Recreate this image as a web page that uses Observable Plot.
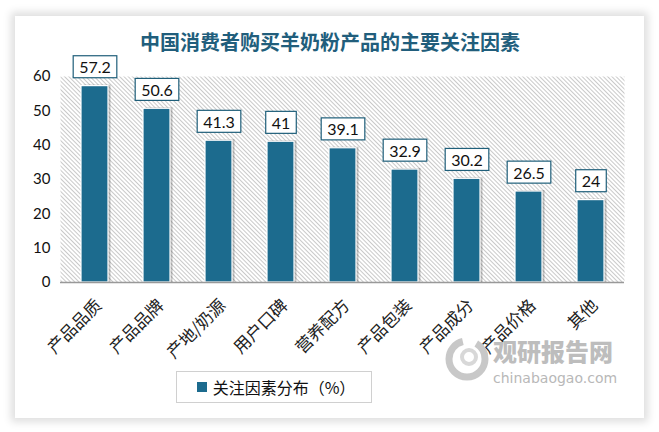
<!DOCTYPE html>
<html><head><meta charset="utf-8">
<script src="https://cdn.jsdelivr.net/npm/d3@7"></script>
<script src="https://cdn.jsdelivr.net/npm/@observablehq/plot@0.6"></script>
<style>
body{margin:0;background:#fff;}
#wrap{position:relative;width:659px;height:432px;overflow:hidden;background:#fff;}
#card{position:absolute;left:15px;top:16px;width:629px;height:402px;background:#fff;box-shadow:0 0 8px 4px rgba(0,0,0,0.13);}
#title{position:absolute;left:0;top:27px;width:660px;text-align:center;font:bold 20px "Noto Sans CJK SC",sans-serif;color:#215e7c;}
#chart{position:absolute;left:0;top:0;}
#legend{position:absolute;left:176px;top:371px;width:196px;height:32px;border:1px solid #d0d0d0;box-sizing:border-box;font:16px "Noto Sans CJK SC",sans-serif;color:#111;display:flex;align-items:center;justify-content:center;padding-left:4px;}
#legend i{display:inline-block;width:10px;height:10px;background:#1c6b8e;margin-right:6px;}
#wm1{position:absolute;left:493px;top:333px;font:900 24px "Noto Sans CJK SC",sans-serif;color:#bdbdbd;}
#wm2{position:absolute;left:493px;top:370px;font:14px "DejaVu Sans",sans-serif;color:#b8b8b8;}
#logo{position:absolute;left:442px;top:333px;}
</style></head>
<body>
<div id="wrap">
  <div id="card"></div>
  <div id="chart"></div>
  <div id="title">中国消费者购买羊奶粉产品的主要关注因素</div>
  <svg id="logo" width="50" height="52"><circle cx="25" cy="26" r="18" fill="none" stroke="#c8c8c8" stroke-width="7" stroke-dasharray="80 14"/><circle cx="27" cy="24" r="7" fill="none" stroke="#d8d8d8" stroke-width="4"/></svg>
  <div id="wm1">观研报告网</div>
  <div id="wm2">chinabaogao.com</div>
  <div id="legend"><i></i>关注因素分布（%）</div>
</div>
<script>
const categories = ["产品品质","产品品牌","产地/奶源","用户口碑","营养配方","产品包装","产品成分","产品价格","其他"];
const values = [57.2, 50.6, 41.3, 41, 39.1, 32.9, 30.2, 26.5, 24];
const yTicks = [0,10,20,30,40,50,60];
const seriesName = "关注因素分布（%）";

const data = categories.map((c,i)=>({cat:c, v:values[i]}));
const barColor = "#1c6b8e";

const chart = Plot.plot({
  width: 659, height: 432,
  marginLeft: 60, marginRight: 35, marginTop: 76, marginBottom: 150,
  style: {fontFamily: "Lato, 'Noto Sans CJK SC', sans-serif", background: "transparent", overflow: "visible"},
  x: {domain: categories, paddingInner: 0.57, paddingOuter: 0.285, label: null},
  y: {domain: [0,60], ticks: yTicks, label: null},
  marks: [
    Plot.frame({fill: "url(#hatch)", stroke: "none"}),
    Plot.axisY({ticks: yTicks, tickSize: 0, tickPadding: 10, fontSize: 15, fill: "#111", label: null, fontFamily: "Lato"}),
    Plot.axisX({tickSize: 0, tickRotate: -45, tickPadding: 6, fontSize: 17, fill: "#222", label: null, fontFamily: "'Noto Sans CJK SC'", dx: 4, dy: 14}),
    Plot.barY(data, {x: "cat", y: "v", fill: "#000", fillOpacity: 0.22, dx: 2.5, dy: 0, insetTop: -1}),
    Plot.barY(data, {x: "cat", y: "v", fill: barColor, stroke: "#fff", strokeWidth: 1.2}),
    Plot.ruleY([0], {stroke: "#999", strokeWidth: 1.5}),
    Plot.text(data, {x: "cat", y: "v", text: d => String(d.v), dy: -18, fontSize: 16, fill: "#111", fontFamily: "Lato", className: "vlab"})
  ]
});
document.getElementById("chart").appendChild(chart);

// hatch pattern
const svg = d3.select(chart);
const defs = svg.insert("defs", ":first-child");
const pat = defs.append("pattern").attr("id","hatch").attr("patternUnits","userSpaceOnUse")
  .attr("width",3).attr("height",3).attr("patternTransform","rotate(-45)");
pat.append("rect").attr("width",3).attr("height",3).attr("fill","#fff");
pat.append("line").attr("x1",0.5).attr("y1",0).attr("x2",0.5).attr("y2",3).attr("stroke","#c9c9c9").attr("stroke-width",1);

// boxes behind value labels
svg.selectAll(".vlab text").each(function(){
  const b = this.getBBox();
  const padX = 6;
  const t = this.getAttribute("transform");
  const r = document.createElementNS("http://www.w3.org/2000/svg","rect");
  this.parentNode.insertBefore(r, this);
  d3.select(r).attr("x", b.x - padX).attr("y", b.y + b.height/2 - 11)
    .attr("width", b.width + 2*padX).attr("height", 22)
    .attr("transform", t)
    .attr("fill","#fff").attr("stroke","#1f5f7a").attr("stroke-width",1.2);
});
</script>
</body></html>
